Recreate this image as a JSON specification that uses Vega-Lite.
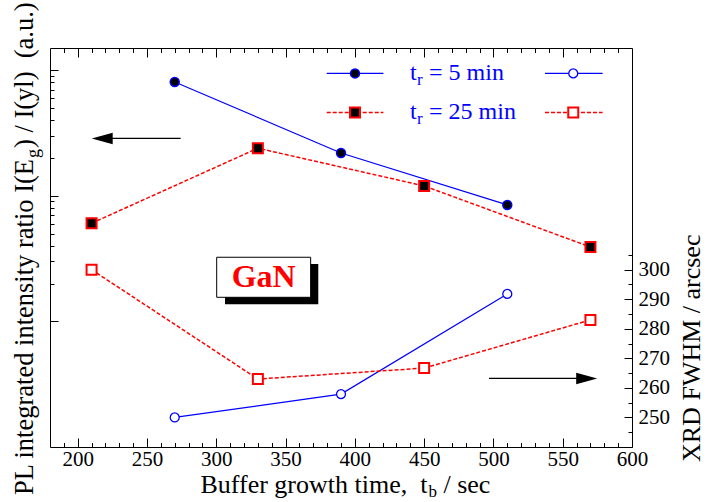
{
  "$schema": "https://vega.github.io/schema/vega-lite/v6.json",
  "width": 582,
  "height": 399,
  "autosize": {"type": "none"},
  "padding": {"left": 50, "top": 48, "right": 79, "bottom": 55},
  "background": "white",
  "config": {
    "view": {"stroke": null},
    "axis": {"domainColor": "black", "tickColor": "black", "labelColor": "black", "labelFont": "Liberation Serif", "labelFontSize": 21, "grid": false, "domainWidth": 1, "tickWidth": 1, "labelFlush": false, "labelOverlap": false}
  },
  "datasets": {
    "pl": [
      {"t": 270, "tr": "5", "v": 80.5},
      {"t": 390, "tr": "5", "v": 21.9},
      {"t": 510, "tr": "5", "v": 8.45},
      {"t": 210, "tr": "25", "v": 6.04},
      {"t": 330, "tr": "25", "v": 23.9},
      {"t": 450, "tr": "25", "v": 11.97},
      {"t": 570, "tr": "25", "v": 3.91}
    ],
    "xrd": [
      {"t": 270, "tr": "5", "v": 250},
      {"t": 390, "tr": "5", "v": 257.9},
      {"t": 510, "tr": "5", "v": 291.8},
      {"t": 210, "tr": "25", "v": 300},
      {"t": 330, "tr": "25", "v": 263},
      {"t": 450, "tr": "25", "v": 266.7},
      {"t": 570, "tr": "25", "v": 283}
    ]
  },
  "layer": [
    {
      "data": {"name": "pl"},
      "layer": [
        {
          "mark": {"type": "point", "opacity": 0},
          "encoding": {
            "x": {"field": "t", "type": "quantitative", "scale": {"domain": [180, 600], "nice": false, "zero": false},
                  "axis": {"orient": "bottom", "values": [200, 250, 300, 350, 400, 450, 500, 550, 600], "tickSize": -9, "labelPadding": 10, "domain": true, "title": null}},
            "y": {"field": "v", "type": "quantitative", "scale": {"type": "log", "domain": [0.1, 150], "nice": false},
                  "axis": {"orient": "left", "values": [1, 10, 100], "tickSize": -8, "labels": false, "domain": true, "title": null}}
          }
        },
        {
          "mark": {"type": "point", "opacity": 0},
          "encoding": {
            "x": {"field": "t", "type": "quantitative", "scale": {"domain": [180, 600], "nice": false, "zero": false},
                  "axis": {"orient": "bottom", "values": [190, 200, 210, 220, 230, 240, 250, 260, 270, 280, 290, 300, 310, 320, 330, 340, 350, 360, 370, 380, 390, 400, 410, 420, 430, 440, 450, 460, 470, 480, 490, 500, 510, 520, 530, 540, 550, 560, 570, 580, 590], "tickSize": -4.5, "labels": false, "domain": false, "title": null}},
            "y": {"field": "v", "type": "quantitative", "scale": {"type": "log", "domain": [0.1, 150], "nice": false},
                  "axis": {"orient": "left", "values": [2, 3, 4, 5, 6, 7, 8, 9, 20, 30, 40, 50, 60, 70, 80, 90], "tickSize": -4, "labels": false, "domain": false, "title": null}}
          }
        },
        {
          "mark": {"type": "point", "opacity": 0},
          "encoding": {
            "x": {"field": "t", "type": "quantitative", "scale": {"domain": [180, 600], "nice": false, "zero": false},
                  "axis": {"orient": "top", "values": [200, 250, 300, 350, 400, 450, 500, 550], "tickSize": -9, "labels": false, "domain": true, "title": null}},
            "y": {"field": "v", "type": "quantitative", "scale": {"type": "log", "domain": [0.1, 150], "nice": false}, "axis": null}
          }
        },
        {
          "mark": {"type": "point", "opacity": 0},
          "encoding": {
            "x": {"field": "t", "type": "quantitative", "scale": {"domain": [180, 600], "nice": false, "zero": false},
                  "axis": {"orient": "top", "values": [190, 200, 210, 220, 230, 240, 250, 260, 270, 280, 290, 300, 310, 320, 330, 340, 350, 360, 370, 380, 390, 400, 410, 420, 430, 440, 450, 460, 470, 480, 490, 500, 510, 520, 530, 540, 550, 560, 570, 580, 590], "tickSize": -4.5, "labels": false, "domain": false, "title": null}},
            "y": {"field": "v", "type": "quantitative", "scale": {"type": "log", "domain": [0.1, 150], "nice": false}, "axis": null}
          }
        },
        {
          "transform": [{"filter": "datum.tr === '5'"}],
          "mark": {"type": "line", "color": "#0000ff", "strokeWidth": 1.2},
          "encoding": {
            "x": {"field": "t", "type": "quantitative", "axis": null},
            "y": {"field": "v", "type": "quantitative", "scale": {"type": "log", "domain": [0.1, 150], "nice": false}, "axis": null}
          }
        },
        {
          "transform": [{"filter": "datum.tr === '25'"}],
          "mark": {"type": "line", "color": "#ff0000", "strokeWidth": 1.5, "strokeDash": [4, 2]},
          "encoding": {
            "x": {"field": "t", "type": "quantitative", "axis": null},
            "y": {"field": "v", "type": "quantitative", "scale": {"type": "log", "domain": [0.1, 150], "nice": false}, "axis": null}
          }
        },
        {
          "transform": [{"filter": "datum.tr === '5'"}],
          "mark": {"type": "point", "shape": "circle", "filled": true, "fill": "black", "stroke": "#0000ff", "strokeWidth": 1.5, "size": 80, "opacity": 1},
          "encoding": {
            "x": {"field": "t", "type": "quantitative", "axis": null},
            "y": {"field": "v", "type": "quantitative", "scale": {"type": "log", "domain": [0.1, 150], "nice": false}, "axis": null}
          }
        },
        {
          "transform": [{"filter": "datum.tr === '25'"}],
          "mark": {"type": "point", "shape": "square", "filled": true, "fill": "black", "stroke": "#ff0000", "strokeWidth": 2, "size": 100, "opacity": 1},
          "encoding": {
            "x": {"field": "t", "type": "quantitative", "axis": null},
            "y": {"field": "v", "type": "quantitative", "scale": {"type": "log", "domain": [0.1, 150], "nice": false}, "axis": null}
          }
        }
      ],
      "resolve": {"axis": {"x": "independent", "y": "independent"}}
    },
    {
      "data": {"name": "xrd"},
      "layer": [
        {
          "mark": {"type": "point", "opacity": 0},
          "encoding": {
            "x": {"field": "t", "type": "quantitative", "axis": null},
            "y": {"field": "v", "type": "quantitative", "scale": {"domain": [240, 375], "nice": false, "zero": false},
                  "axis": {"orient": "right", "values": [250, 260, 270, 280, 290, 300], "tickSize": -8, "labelPadding": 14, "domain": true, "title": null}}
          }
        },
        {
          "mark": {"type": "point", "opacity": 0},
          "encoding": {
            "x": {"field": "t", "type": "quantitative", "axis": null},
            "y": {"field": "v", "type": "quantitative", "scale": {"domain": [240, 375], "nice": false, "zero": false},
                  "axis": {"orient": "right", "values": [245, 255, 265, 275, 285, 295, 305], "tickSize": -4, "labels": false, "domain": false, "title": null}}
          }
        },
        {
          "transform": [{"filter": "datum.tr === '5'"}],
          "mark": {"type": "line", "color": "#0000ff", "strokeWidth": 1.2},
          "encoding": {
            "x": {"field": "t", "type": "quantitative", "axis": null},
            "y": {"field": "v", "type": "quantitative", "axis": null}
          }
        },
        {
          "transform": [{"filter": "datum.tr === '25'"}],
          "mark": {"type": "line", "color": "#ff0000", "strokeWidth": 1.5, "strokeDash": [4, 2]},
          "encoding": {
            "x": {"field": "t", "type": "quantitative", "axis": null},
            "y": {"field": "v", "type": "quantitative", "axis": null}
          }
        },
        {
          "transform": [{"filter": "datum.tr === '5'"}],
          "mark": {"type": "point", "shape": "circle", "filled": true, "fill": "white", "stroke": "#0000ff", "strokeWidth": 1.3, "size": 80, "opacity": 1},
          "encoding": {
            "x": {"field": "t", "type": "quantitative", "axis": null},
            "y": {"field": "v", "type": "quantitative", "axis": null}
          }
        },
        {
          "transform": [{"filter": "datum.tr === '25'"}],
          "mark": {"type": "point", "shape": "square", "filled": true, "fill": "white", "stroke": "#ff0000", "strokeWidth": 2, "size": 100, "opacity": 1},
          "encoding": {
            "x": {"field": "t", "type": "quantitative", "axis": null},
            "y": {"field": "v", "type": "quantitative", "axis": null}
          }
        },
        {
          "data": {"values": [{}]},
          "mark": {"type": "rule", "color": "#0000ff", "strokeWidth": 1.2},
          "encoding": {"x": {"datum": 379.7, "type": "quantitative", "axis": null}, "x2": {"datum": 420.6}, "y": {"datum": 366.4, "type": "quantitative", "axis": null}}
        },
        {
          "data": {"values": [{}]},
          "mark": {"type": "rule", "color": "#0000ff", "strokeWidth": 1.2},
          "encoding": {"x": {"datum": 537.2, "type": "quantitative", "axis": null}, "x2": {"datum": 578.8}, "y": {"datum": 366.4, "type": "quantitative", "axis": null}}
        },
        {
          "data": {"values": [{}]},
          "mark": {"type": "rule", "color": "#ff0000", "strokeWidth": 1.5, "strokeDash": [4, 2]},
          "encoding": {"x": {"datum": 379.7, "type": "quantitative", "axis": null}, "x2": {"datum": 420.6}, "y": {"datum": 353.2, "type": "quantitative", "axis": null}}
        },
        {
          "data": {"values": [{}]},
          "mark": {"type": "rule", "color": "#ff0000", "strokeWidth": 1.5, "strokeDash": [4, 2]},
          "encoding": {"x": {"datum": 537.2, "type": "quantitative", "axis": null}, "x2": {"datum": 578.8}, "y": {"datum": 353.2, "type": "quantitative", "axis": null}}
        },
        {
          "data": {"values": [{}]},
          "mark": {"type": "point", "shape": "circle", "filled": true, "fill": "black", "stroke": "#0000ff", "strokeWidth": 1.5, "size": 80, "opacity": 1},
          "encoding": {"x": {"datum": 400.1, "type": "quantitative", "axis": null}, "y": {"datum": 366.4, "type": "quantitative", "axis": null}}
        },
        {
          "data": {"values": [{}]},
          "mark": {"type": "point", "shape": "circle", "filled": true, "fill": "white", "stroke": "#0000ff", "strokeWidth": 1.3, "size": 80, "opacity": 1},
          "encoding": {"x": {"datum": 557.6, "type": "quantitative", "axis": null}, "y": {"datum": 366.4, "type": "quantitative", "axis": null}}
        },
        {
          "data": {"values": [{}]},
          "mark": {"type": "point", "shape": "square", "filled": true, "fill": "black", "stroke": "#ff0000", "strokeWidth": 2, "size": 100, "opacity": 1},
          "encoding": {"x": {"datum": 400.1, "type": "quantitative", "axis": null}, "y": {"datum": 353.2, "type": "quantitative", "axis": null}}
        },
        {
          "data": {"values": [{}]},
          "mark": {"type": "point", "shape": "square", "filled": true, "fill": "white", "stroke": "#ff0000", "strokeWidth": 2, "size": 100, "opacity": 1},
          "encoding": {"x": {"datum": 557.6, "type": "quantitative", "axis": null}, "y": {"datum": 353.2, "type": "quantitative", "axis": null}}
        },
        {
          "data": {"values": [{}]},
          "mark": {"type": "text", "text": "t", "align": "left", "baseline": "alphabetic", "dy": 7, "fontSize": 24, "font": "Liberation Serif", "color": "#0000ff"},
          "encoding": {"x": {"datum": 439.8, "type": "quantitative", "axis": null}, "y": {"datum": 366.4, "type": "quantitative", "axis": null}}
        },
        {
          "data": {"values": [{}]},
          "mark": {"type": "text", "text": "r", "align": "left", "baseline": "alphabetic", "dx": 7, "dy": 12, "fontSize": 17, "font": "Liberation Serif", "color": "#0000ff"},
          "encoding": {"x": {"datum": 439.8, "type": "quantitative", "axis": null}, "y": {"datum": 366.4, "type": "quantitative", "axis": null}}
        },
        {
          "data": {"values": [{}]},
          "mark": {"type": "text", "text": "= 5 min", "align": "left", "baseline": "alphabetic", "dx": 19, "dy": 7, "fontSize": 24, "font": "Liberation Serif", "color": "#0000ff"},
          "encoding": {"x": {"datum": 439.8, "type": "quantitative", "axis": null}, "y": {"datum": 366.4, "type": "quantitative", "axis": null}}
        },
        {
          "data": {"values": [{}]},
          "mark": {"type": "text", "text": "t", "align": "left", "baseline": "alphabetic", "dy": 7, "fontSize": 24, "font": "Liberation Serif", "color": "#0000ff"},
          "encoding": {"x": {"datum": 439.8, "type": "quantitative", "axis": null}, "y": {"datum": 353.2, "type": "quantitative", "axis": null}}
        },
        {
          "data": {"values": [{}]},
          "mark": {"type": "text", "text": "r", "align": "left", "baseline": "alphabetic", "dx": 7, "dy": 12, "fontSize": 17, "font": "Liberation Serif", "color": "#0000ff"},
          "encoding": {"x": {"datum": 439.8, "type": "quantitative", "axis": null}, "y": {"datum": 353.2, "type": "quantitative", "axis": null}}
        },
        {
          "data": {"values": [{}]},
          "mark": {"type": "text", "text": "= 25 min", "align": "left", "baseline": "alphabetic", "dx": 19, "dy": 7, "fontSize": 24, "font": "Liberation Serif", "color": "#0000ff"},
          "encoding": {"x": {"datum": 439.8, "type": "quantitative", "axis": null}, "y": {"datum": 353.2, "type": "quantitative", "axis": null}}
        },
        {
          "data": {"values": [{}]},
          "mark": {"type": "rule", "color": "black", "strokeWidth": 1.2},
          "encoding": {"x": {"datum": 220, "type": "quantitative", "axis": null}, "x2": {"datum": 274.3}, "y": {"datum": 344.4, "type": "quantitative", "axis": null}}
        },
        {
          "data": {"values": [{}]},
          "mark": {"type": "point", "shape": "M0,0 L2,-0.55 L2,0.55 Z", "size": 441, "filled": true, "fill": "black", "strokeWidth": 0, "opacity": 1},
          "encoding": {"x": {"datum": 210.1, "type": "quantitative", "axis": null}, "y": {"datum": 344.4, "type": "quantitative", "axis": null}}
        },
        {
          "data": {"values": [{}]},
          "mark": {"type": "rule", "color": "black", "strokeWidth": 1.2},
          "encoding": {"x": {"datum": 496.8, "type": "quantitative", "axis": null}, "x2": {"datum": 565}, "y": {"datum": 263.2, "type": "quantitative", "axis": null}}
        },
        {
          "data": {"values": [{}]},
          "mark": {"type": "point", "shape": "M0,0 L-2,-0.55 L-2,0.55 Z", "size": 441, "filled": true, "fill": "black", "strokeWidth": 0, "opacity": 1},
          "encoding": {"x": {"datum": 574.9, "type": "quantitative", "axis": null}, "y": {"datum": 263.2, "type": "quantitative", "axis": null}}
        },
        {
          "data": {"values": [{}]},
          "mark": {"type": "rect", "fill": "black"},
          "encoding": {"x": {"datum": 306.3, "type": "quantitative", "axis": null}, "x2": {"datum": 373.6}, "y": {"datum": 301.9, "type": "quantitative", "axis": null}, "y2": {"datum": 288.3}}
        },
        {
          "data": {"values": [{}]},
          "mark": {"type": "rect", "fill": "white", "stroke": "black", "strokeWidth": 1},
          "encoding": {"x": {"datum": 300.3, "type": "quantitative", "axis": null}, "x2": {"datum": 368.1}, "y": {"datum": 304.2, "type": "quantitative", "axis": null}, "y2": {"datum": 290.65}}
        },
        {
          "data": {"values": [{}]},
          "mark": {"type": "text", "text": "GaN", "align": "center", "baseline": "middle", "fontSize": 32, "fontWeight": "bold", "font": "Liberation Serif", "color": "#ff0000"},
          "encoding": {"x": {"datum": 334.2, "type": "quantitative", "axis": null}, "y": {"datum": 297.4, "type": "quantitative", "axis": null}}
        },
        {
          "data": {"values": [{}]},
          "mark": {"type": "text", "text": "Buffer growth time,\u00a0 t", "align": "right", "baseline": "alphabetic", "dy": 46, "fontSize": 26, "font": "Liberation Serif", "color": "black"},
          "encoding": {"x": {"datum": 452.4, "type": "quantitative", "axis": null}, "y": {"datum": 240, "type": "quantitative", "axis": null}}
        },
        {
          "data": {"values": [{}]},
          "mark": {"type": "text", "text": "b", "align": "left", "baseline": "alphabetic", "dx": 1, "dy": 50, "fontSize": 17, "font": "Liberation Serif", "color": "black"},
          "encoding": {"x": {"datum": 452.4, "type": "quantitative", "axis": null}, "y": {"datum": 240, "type": "quantitative", "axis": null}}
        },
        {
          "data": {"values": [{}]},
          "mark": {"type": "text", "text": "/ sec", "align": "left", "baseline": "alphabetic", "dx": 16, "dy": 46, "fontSize": 26, "font": "Liberation Serif", "color": "black"},
          "encoding": {"x": {"datum": 452.4, "type": "quantitative", "axis": null}, "y": {"datum": 240, "type": "quantitative", "axis": null}}
        },
        {
          "data": {"values": [{}]},
          "mark": {"type": "text", "text": "PL integrated intensity ratio I(E", "align": "right", "baseline": "alphabetic", "angle": 270, "dx": 288, "dy": -17, "fontSize": 26.5, "font": "Liberation Serif", "color": "black"},
          "encoding": {"x": {"datum": 180, "type": "quantitative", "axis": null}, "y": {"datum": 240, "type": "quantitative", "axis": null}}
        },
        {
          "data": {"values": [{}]},
          "mark": {"type": "text", "text": "g", "align": "left", "baseline": "alphabetic", "angle": 270, "dx": 289, "dy": -11, "fontSize": 18, "font": "Liberation Serif", "color": "black"},
          "encoding": {"x": {"datum": 180, "type": "quantitative", "axis": null}, "y": {"datum": 240, "type": "quantitative", "axis": null}}
        },
        {
          "data": {"values": [{}]},
          "mark": {"type": "text", "text": ") / I(yl)\u00a0 (a.u.)", "align": "left", "baseline": "alphabetic", "angle": 270, "dx": 299, "dy": -17, "fontSize": 26.5, "font": "Liberation Serif", "color": "black"},
          "encoding": {"x": {"datum": 180, "type": "quantitative", "axis": null}, "y": {"datum": 240, "type": "quantitative", "axis": null}}
        },
        {
          "data": {"values": [{}]},
          "mark": {"type": "text", "text": "XRD FWHM / arcsec", "align": "left", "baseline": "alphabetic", "angle": 270, "dx": -15, "dy": 68, "fontSize": 26, "font": "Liberation Serif", "color": "black"},
          "encoding": {"x": {"datum": 600, "type": "quantitative", "axis": null}, "y": {"datum": 240, "type": "quantitative", "axis": null}}
        }
      ],
      "resolve": {"axis": {"x": "independent", "y": "independent"}}
    }
  ],
  "resolve": {"scale": {"y": "independent"}, "axis": {"x": "independent", "y": "independent"}}
}
